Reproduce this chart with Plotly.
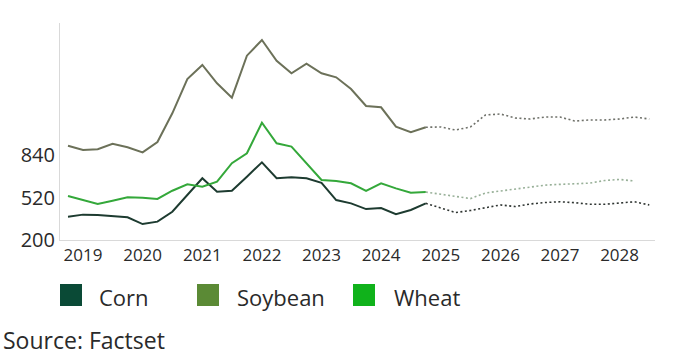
import pandas as pd
import plotly.graph_objects as go

# ---- data (quarterly, 2018Q4 .. 2024Q4 actuals; 2025Q1 .. forecasts) ----
hist_dates = pd.date_range("2018-10-01", periods=25, freq="QS")
corn_hist = [375, 391, 388, 381, 371, 320, 338, 413, 539, 665, 564, 571, 677,
             785, 665, 672, 665, 631, 501, 476, 433, 441, 394, 426, 476]
soy_hist = [910, 878, 883, 925, 898, 860, 938, 1154, 1412, 1518, 1380, 1272, 1588,
            1706, 1550, 1455, 1528, 1455, 1425, 1337, 1209, 1199, 1053, 1011, 1049]
wheat_hist = [531, 501, 471, 496, 522, 519, 509, 571, 619, 601, 639, 778, 853,
              1083, 928, 903, 778, 652, 644, 627, 569, 627, 589, 556, 561]

fc_dates = pd.date_range("2025-01-01", periods=15, freq="QS")
corn_fc = [441, 407, 422, 445, 464, 452, 471, 482, 488, 481, 469, 469, 476, 488, 464]
soy_fc = [1051, 1028, 1051, 1141, 1149, 1119, 1111, 1126, 1126, 1096, 1104, 1104, 1111, 1126, 1111]
wheat_fc = [543, 525, 512, 554, 569, 582, 595, 613, 619, 622, 628, 648, 656, 644]

series_names = ["Corn", "Soybean", "Wheat"]
year_labels = ["2019", "2020", "2021", "2022", "2023", "2024", "2025", "2026", "2027", "2028"]
y_ticks = [200, 520, 840]

# ---- styles ----
line_colors = {"Corn": "#1d3b30", "Soybean": "#6c7159", "Wheat": "#34a83a"}
dot_colors = {"Corn": "#2f3532", "Soybean": "#6f716a", "Wheat": "#98b098"}
swatch_colors = {"Corn": "#0a4a36", "Soybean": "#5b8a35", "Wheat": "#10b21b"}
FONT = "Open Sans"
TXT = "#2a2a2a"

hist = {"Corn": corn_hist, "Soybean": soy_hist, "Wheat": wheat_hist}
fc = {"Corn": corn_fc, "Soybean": soy_fc, "Wheat": wheat_fc}

fig = go.Figure()
for name in series_names:
    fig.add_trace(go.Scatter(x=list(hist_dates), y=hist[name], mode="lines",
                             line=dict(color=line_colors[name], width=2),
                             name=name, showlegend=False, hoverinfo="skip"))
for name in series_names:
    n = len(fc[name])
    xs = [hist_dates[-1]] + list(fc_dates[:n])
    ys = [hist[name][-1]] + fc[name]
    fig.add_trace(go.Scatter(x=xs, y=ys, mode="lines",
                             line=dict(color=dot_colors[name], width=1.6, dash="2px,2.5px"),
                             name=name + " forecast", showlegend=False, hoverinfo="skip"))

# plot area in pixels: x 60..655, y 23..240
L, R, T, B = 60, 655, 23, 240
W, H = R - L, B - T
def px(x):
    return (x - L) / W
def py(y):
    return (B - y) / H

shapes = []
annotations = []
legend_pos = {"Corn": (60, 97), "Soybean": (197, 235), "Wheat": (353, 392)}
for name in series_names:
    sx, tx = legend_pos[name]
    shapes.append(dict(type="rect", xref="paper", yref="paper",
                       x0=px(sx), x1=px(sx + 22), y0=py(284), y1=py(306),
                       fillcolor=swatch_colors[name], line=dict(width=0)))
    annotations.append(dict(xref="paper", yref="paper", x=px(tx), y=py(297),
                            xanchor="left", yanchor="middle", showarrow=False,
                            text=name, font=dict(family=FONT, size=22, color=TXT)))
annotations.append(dict(xref="paper", yref="paper", x=px(1), y=py(340),
                        xanchor="left", yanchor="middle", showarrow=False,
                        text="Source: Factset", font=dict(family=FONT, size=23, color=TXT)))

fig.update_layout(
    width=689, height=362,
    margin=dict(l=L, r=689 - R, t=T, b=362 - B),
    paper_bgcolor="white", plot_bgcolor="white",
    font=dict(family=FONT, color=TXT),
    shapes=shapes, annotations=annotations,
    showlegend=False,
)
fig.update_xaxes(
    type="date", range=["2018-08-13", "2028-08-05"],
    tickvals=[f"{y}-01-01" for y in year_labels], ticktext=year_labels,
    showgrid=False, zeroline=False, showline=True, linecolor="#d9d9d9", linewidth=1,
    ticks="", tickfont=dict(size=17, color=TXT, family=FONT),
)
fig.update_yaxes(
    range=[200, 1834], tickvals=y_ticks, ticktext=[str(v) for v in y_ticks],
    showgrid=False, zeroline=False, showline=True, linecolor="#d9d9d9", linewidth=1,
    ticks="", tickfont=dict(size=20, color=TXT, family=FONT),
)

fig.write_html("out.html", config={"displayModeBar": False},
               post_script="document.body.style.margin='0';")
